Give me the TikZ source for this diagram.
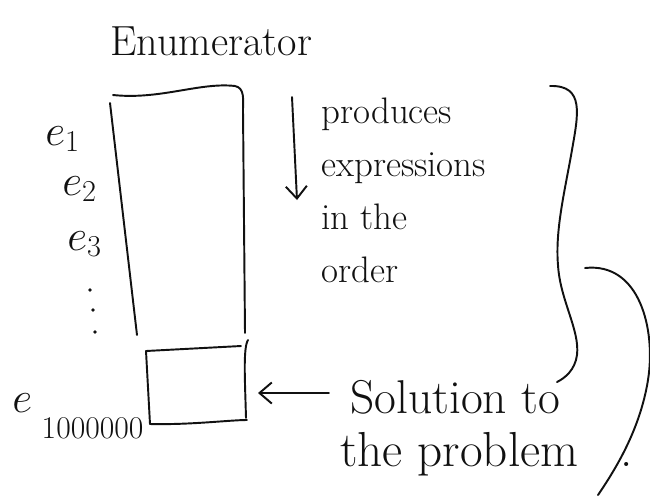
\documentclass[tikz,border=0pt]{standalone}
\usepackage{amsmath,amssymb}
\usepackage{tikz}
\usetikzlibrary{arrows.meta,positioning}
\usepackage{xcolor}
\definecolor{ink}{HTML}{111111}

\begin{document}
\begin{tikzpicture}[
  x=0.02cm, y=-0.02cm,
  pen/.style={draw=ink, line width=1.1pt, line cap=round, line join=round},
  note/.style={inner sep=0pt, anchor=base west, text=ink, align=left},
  elabel/.style={inner sep=0pt, anchor=base west, text=ink, font=\fontsize{24}{24}\selectfont},
  tip/.style={-{Straight Barb[length=7pt, width=12pt, line width=1.1pt]}},
]
  \useasboundingbox (0,0) rectangle (650,495);

  % title
  \node[note, font=\fontsize{24}{24}\selectfont] (title) at (110,55) {Enumerator};

  % the column of expressions
  \draw[pen] (113,95) .. controls (160,100) and (200,82) .. (235,86)
             .. controls (245,88) and (243,100) .. (243,110) -- (245,333);
  \draw[pen] (110,103) -- (137,335);

  % the last box
  \draw[pen] (146,351) -- (241,346);
  \draw[pen] (146,351) -- (150,424) .. controls (190,425) and (230,420) .. (247,420);
  \draw[pen] (248,340) .. controls (243,348) and (245,380) .. (246,418);
  \coordinate (box) at (258,393);

  % expressions
  \node[elabel] (e1) at (45,145) {$e_1$};
  \node[elabel] (e2) at (62,195) {$e_2$};
  \node[elabel] (e3) at (67,250) {$e_3$};
  \foreach \px/\py in {90/290, 93/310, 95/332}
    \fill[ink] (\px,\py) circle (1.8);
  \node[elabel, font=\fontsize{32}{32}\selectfont] (elast) at (12,412)
    {$e$\raisebox{-15pt}{\fontsize{18}{18}\selectfont\ 1000000}};

  % order of production
  \coordinate (ordtop) at (292,97);
  \coordinate (ordbot) at (297,200);
  \draw[pen, tip] (ordtop) -- (ordbot);
  \node[note, anchor=north west, font=\fontsize{21}{30}\selectfont] (prod) at (321,98)
    {produces\\expressions\\in the\\order};

  % solution
  \node[note, font=\fontsize{27}{27}\selectfont] (sol) at (350,413) {Solution to};
  \node[note, font=\fontsize{28}{28}\selectfont] (prob) at (340,466) {the problem\hspace{24pt}.};
  \draw[pen, tip] ([xshift=-12]sol.west |- 0,393) -- (box);

  % braces
  \draw[pen] (550,86) .. controls (585,85) and (578,115) .. (572,150)
             .. controls (565,190) and (555,230) .. (558,265)
             .. controls (560,300) and (580,330) .. (577,355)
             .. controls (575,370) and (565,378) .. (557,382);
  \draw[pen] (585,268) .. controls (640,262) and (656,330) .. (648,380)
             .. controls (640,430) and (615,470) .. (598,495);
\end{tikzpicture}
\end{document}
